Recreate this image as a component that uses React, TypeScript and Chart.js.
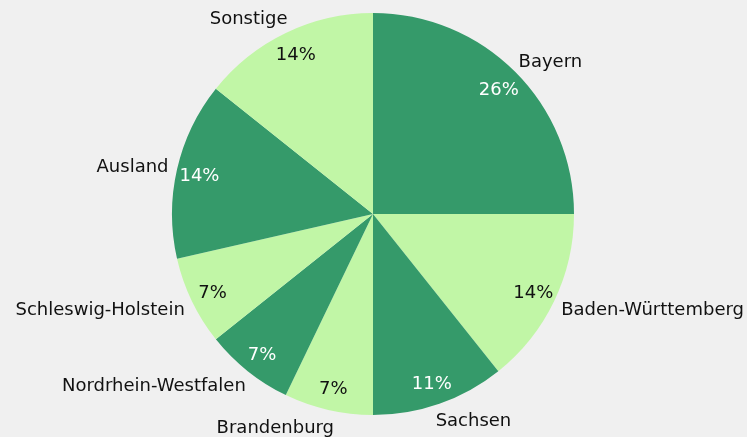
import React, { useEffect, useRef } from "react";
import { Chart, registerables } from "chart.js";

Chart.register(...registerables);

const categories = [
  "Bayern",
  "Baden-Württemberg",
  "Sachsen",
  "Brandenburg",
  "Nordrhein-Westfalen",
  "Schleswig-Holstein",
  "Ausland",
  "Sonstige",
];
const counts = [7, 4, 3, 2, 2, 2, 4, 4];
const pctLabels = ["26%", "14%", "11%", "7%", "7%", "7%", "14%", "14%"];

const DARK = "#359a6a";
const LIGHT = "#c1f6a6";
const sliceColors = categories.map((_, i) => (i % 2 === 0 ? DARK : LIGHT));
const FONT = "'DejaVu Sans', sans-serif";

const labelPlugin = {
  id: "pieLabels",
  afterDatasetsDraw(chart: any) {
    const ctx = chart.ctx;
    const meta = chart.getDatasetMeta(0);
    ctx.save();
    ctx.font = `18px ${FONT}`;
    meta.data.forEach((arc: any, i: number) => {
      const { x, y, startAngle, endAngle, outerRadius } = arc.getProps(
        ["x", "y", "startAngle", "endAngle", "outerRadius"],
        true
      );
      const mid = (startAngle + endAngle) / 2;
      const dx = Math.cos(mid);
      const dy = Math.sin(mid);
      // inside percent
      const ri = outerRadius - 23;
      ctx.textAlign = "center";
      ctx.textBaseline = "middle";
      ctx.fillStyle = i % 2 === 0 ? "#ffffff" : "#111111";
      ctx.fillText(pctLabels[i], x + dx * ri, y + dy * ri + 2);
      // outside category label
      const ro = outerRadius + 9;
      let px = x + dx * ro;
      const py = y + dy * ro + dy * 8 + 2;
      ctx.fillStyle = "#111111";
      if (dx >= 0) {
        ctx.textAlign = "left";
        px -= 10 * (1 - Math.abs(dx));
      } else {
        ctx.textAlign = "right";
        px += 10 * (1 - Math.abs(dx));
      }
      ctx.fillText(categories[i], px, py);
    });
    ctx.restore();
  },
};

export default function App() {
  const ref = useRef<HTMLCanvasElement | null>(null);
  useEffect(() => {
    document.body.style.margin = "0";
    document.body.style.background = "#f0f0f0";
    const chart = new Chart(ref.current as HTMLCanvasElement, {
      type: "pie",
      data: {
        labels: categories,
        datasets: [
          {
            data: counts,
            backgroundColor: sliceColors,
            borderWidth: 0,
          },
        ],
      },
      options: {
        animation: false,
        responsive: false,
        layout: { padding: { top: 13, bottom: 22, left: 172, right: 173 } },
        plugins: {
          legend: { display: false },
          tooltip: { enabled: false },
        },
      },
      plugins: [labelPlugin],
    });
    return () => chart.destroy();
  }, []);
  return (
    <div style={{ width: 747, height: 437, background: "#f0f0f0" }}>
      <canvas ref={ref} width={747} height={437} style={{ display: "block" }} />
    </div>
  );
}
